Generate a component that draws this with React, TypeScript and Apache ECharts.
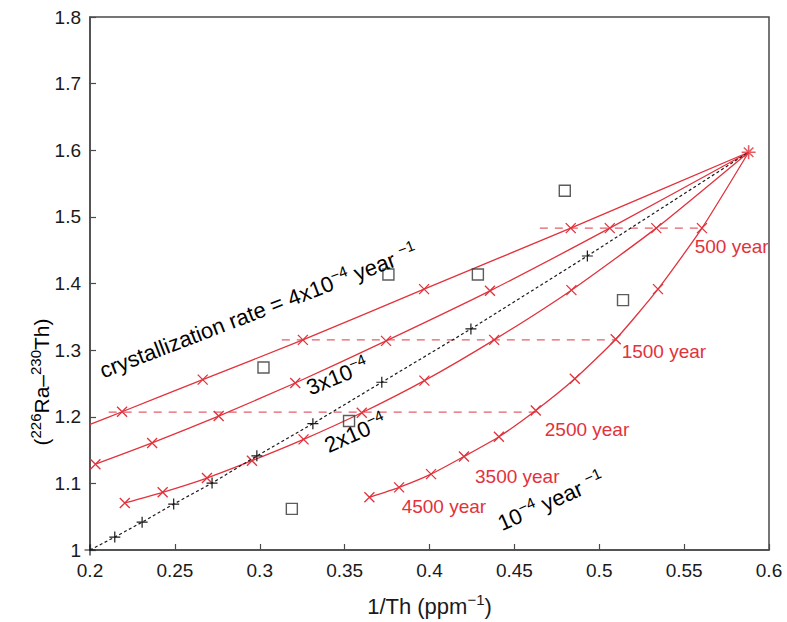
import React, { useEffect, useRef } from 'react';
import * as echarts from 'echarts';

// ---- data ----
const source: number[] = [0.588, 1.597]; // common start point (red asterisk)

// crystallization-rate curves: x-marked points every 500 years, from the source outward
const rate4e4: number[][] = [[0.4832, 1.4831], [0.3968, 1.3915], [0.3254, 1.3154], [0.2664, 1.2557], [0.2189, 1.2075]];
const rate4e4End: number[] = [0.2, 1.1885];
const rate3e4: number[][] = [[0.5062, 1.4831], [0.4356, 1.389], [0.3744, 1.3139], [0.3209, 1.2507], [0.2758, 1.201], [0.2366, 1.1607], [0.2032, 1.1288]];
const rate2e4: number[][] = [[0.5336, 1.4831], [0.4836, 1.390], [0.4381, 1.3154], [0.397, 1.2542], [0.3601, 1.206], [0.3258, 1.166], [0.2954, 1.134], [0.2689, 1.108], [0.2428, 1.0866], [0.2205, 1.0706]];
const rate1e4: number[][] = [[0.5605, 1.4831], [0.5346, 1.3915], [0.5097, 1.3164], [0.4856, 1.257], [0.4626, 1.2094], [0.4409, 1.170], [0.4203, 1.1403], [0.4009, 1.1139], [0.3821, 1.094], [0.3646, 1.0791]];

// black dotted reference line with + markers
const dottedStart: number[] = [0.2, 1.0];
const dottedPts: number[][] = [[0.2146, 1.0194], [0.2307, 1.0418], [0.2493, 1.069], [0.2719, 1.1004], [0.2983, 1.1413], [0.3313, 1.1896], [0.3719, 1.2518], [0.4244, 1.3318], [0.4930, 1.4413]];

// measured samples (open squares)
const samples: number[][] = [[0.3022, 1.274], [0.3189, 1.0617], [0.3526, 1.1936], [0.3758, 1.4134], [0.4285, 1.4134], [0.4797, 1.5393], [0.514, 1.375]];

// isochron (age) dashed lines
const iso500: number[][] = [[0.465, 1.4831], [0.562, 1.4831]];
const iso1500: number[][] = [[0.313, 1.3154], [0.51, 1.3154]];
const iso2500: number[][] = [[0.211, 1.207], [0.463, 1.207]];

// text annotations (data coordinates)
const rateTexts = [
  { text: '{n|crystallization rate = 4x10}{s|−4}{n| year }{s|−1}', at: [0.2085, 1.2525], angle: 21 },
  { text: '{n|3x10}{s|−4}', at: [0.3305, 1.2270], angle: 22 },
  { text: '{n|2x10}{s|−4}', at: [0.3415, 1.1405], angle: 24 },
  { text: '{n|10}{s|−4}{n| year }{s|−1}', at: [0.4435, 1.0235], angle: 24 },
];
const ageTexts = [
  { text: '500 year', at: [0.5562, 1.4552] },
  { text: '1500 year', at: [0.5132, 1.2985] },
  { text: '2500 year', at: [0.4679, 1.1806] },
  { text: '3500 year', at: [0.4268, 1.1104] },
  { text: '4500 year', at: [0.3836, 1.0657] },
];

const RED = '#e2323c';
const DASH_RED = '#e4606a';
const INK = '#1a1a1a';
const AXIS = '#4a4a4a';
const FONT = '"Liberation Sans", Arial, Helvetica, sans-serif';

const X_SYM = 'path://M0,0L10,10M10,0L0,10';
const PLUS_SYM = 'path://M5,0L5,10M0,5L10,5';
const STAR_SYM = 'path://M5,0L5,10M0,5L10,5M1.6,1.6L8.4,8.4M8.4,1.6L1.6,8.4';

export default function App() {
  const ref = useRef<HTMLDivElement>(null);
  useEffect(() => {
    if (!ref.current) return;
    const chart = echarts.init(ref.current, null, { renderer: 'svg' });

    const stroke = (c: string, w = 1.3) => ({ color: 'transparent', borderColor: c, borderWidth: w });

    const curve = (name: string, pts: number[][], end?: number[]) => {
      const data: any[] = [{ value: source, symbol: 'none' }, ...pts.map((p) => ({ value: p }))];
      if (end) data.push({ value: end, symbol: 'none' });
      return {
        type: 'line', name, data, symbol: X_SYM, symbolSize: 10, smooth: 0.2,
        lineStyle: { color: RED, width: 1.3 }, itemStyle: stroke(RED, 1.3), z: 3,
      };
    };
    const dashed = (name: string, pts: number[][]) => ({
      type: 'line', name, data: pts, symbol: 'none',
      lineStyle: { color: DASH_RED, width: 1.3, type: [8, 7] }, z: 2,
    });

    const richN = (size: number, color: string) => ({
      n: { fontSize: size, fontFamily: FONT, color, lineHeight: size + 3, verticalAlign: 'bottom' },
      s: { fontSize: Math.round(size * 0.7), fontFamily: FONT, color, verticalAlign: 'top' },
    });

    chart.setOption({
      animation: false,
      grid: { left: 90, right: 18, top: 17, bottom: 69, show: true, borderColor: AXIS, borderWidth: 1.5, backgroundColor: 'transparent' },
      xAxis: {
        type: 'value', min: 0.2, max: 0.6, interval: 0.05,
        axisLine: { show: true, lineStyle: { color: AXIS, width: 1.5 } },
        axisTick: { show: true, inside: true, length: 6, lineStyle: { color: AXIS, width: 1.2 } },
        axisLabel: { color: INK, fontSize: 19, fontFamily: FONT, margin: 11 },
        splitLine: { show: false },
        name: '{n|1/Th (ppm}{s|−1}{n|)}', nameLocation: 'middle', nameGap: 42,
        nameTextStyle: { rich: richN(22, INK) },
      },
      yAxis: {
        type: 'value', min: 1, max: 1.8, interval: 0.1,
        axisLine: { show: true, lineStyle: { color: AXIS, width: 1.5 } },
        axisTick: { show: true, inside: true, length: 6, lineStyle: { color: AXIS, width: 1.2 } },
        axisLabel: { color: INK, fontSize: 19, fontFamily: FONT, margin: 9 },
        splitLine: { show: false },
      },
      series: [
        dashed('500 year', iso500),
        dashed('1500 year', iso1500),
        dashed('2500 year', iso2500),
        curve('4x10-4', rate4e4, rate4e4End),
        curve('3x10-4', rate3e4),
        curve('2x10-4', rate2e4),
        curve('1x10-4', rate1e4),
        {
          type: 'line', name: 'reference',
          data: [{ value: dottedStart }, ...dottedPts.map((p) => ({ value: p })), { value: source, symbol: 'none' }],
          symbol: PLUS_SYM, symbolSize: 11,
          lineStyle: { color: INK, width: 1.2, type: [3, 2.5] }, itemStyle: stroke(INK, 1.2), z: 4,
        },
        {
          type: 'scatter', name: 'samples', data: samples, symbol: 'rect', symbolSize: 11,
          itemStyle: stroke('#333', 1.4), z: 5,
        },
        {
          type: 'scatter', name: 'source', data: [source], symbol: STAR_SYM, symbolSize: 14,
          itemStyle: stroke(RED, 1.6), z: 6,
        },
      ],
    });

    const px = (p: number[]) => chart.convertToPixel({ gridIndex: 0 }, p) as number[];
    const graphics: any[] = [];
    rateTexts.forEach((t) => {
      const [x, y] = px(t.at);
      graphics.push({
        type: 'text', x, y, rotation: (t.angle * Math.PI) / 180, z: 10,
        style: { text: t.text, rich: richN(22, INK), align: 'left', verticalAlign: 'bottom' },
      });
    });
    ageTexts.forEach((t) => {
      const [x, y] = px(t.at);
      graphics.push({
        type: 'text', x, y, z: 10,
        style: { text: t.text, fill: RED, fontSize: 19, fontFamily: FONT, align: 'left', verticalAlign: 'middle' },
      });
    });
    graphics.push({
      type: 'text', x: 40, y: 382, rotation: Math.PI / 2, z: 10,
      style: { text: '{n|(}{s|226}{n|Ra–}{s|230}{n|Th)}', rich: richN(21, INK), align: 'center', verticalAlign: 'middle' },
    });
    chart.setOption({ graphic: graphics });

    return () => chart.dispose();
  }, []);
  return <div ref={ref} style={{ position: 'fixed', left: 0, top: 0, width: 787, height: 622, background: '#fff' }} />;
}
